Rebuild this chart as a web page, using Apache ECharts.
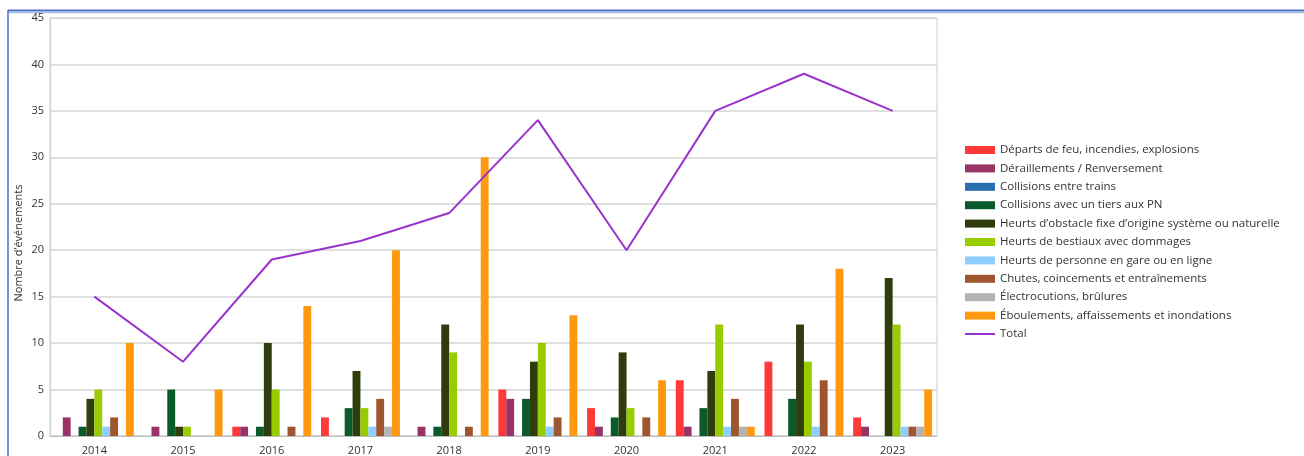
<!DOCTYPE html>
<html><head><meta charset="utf-8">
<script src="https://cdn.jsdelivr.net/npm/echarts@6/dist/echarts.min.js"></script>
<style>html,body{margin:0;padding:0;background:#fff}#c{width:1304px;height:456px}</style>
</head><body><div id="c"></div>
<script>
const years = ['2014','2015','2016','2017','2018','2019','2020','2021','2022','2023'];
const seriesNames = [
  'Départs de feu, incendies, explosions',
  'Déraillements / Renversement',
  'Collisions entre trains',
  'Collisions avec un tiers aux PN',
  'Heurts d\u2019obstacle fixe d\u2019origine système ou naturelle',
  'Heurts de bestiaux avec dommages',
  'Heurts de personne en gare ou en ligne',
  'Chutes, coincements et entraînements',
  'Électrocutions, brûlures',
  'Éboulements, affaissements et inondations'
];
const feu        = [0,0,1,2,0,5,3,6,8,2];
const deraille   = [2,1,1,0,1,4,1,1,0,1];
const collTrains = [0,0,0,0,0,0,0,0,0,0];
const collPN     = [1,5,1,3,1,4,2,3,4,0];
const obstacle   = [4,1,10,7,12,8,9,7,12,17];
const bestiaux   = [5,1,5,3,9,10,3,12,8,12];
const personne   = [1,0,0,1,0,1,0,1,1,1];
const chutes     = [2,0,1,4,1,2,2,4,6,1];
const electro    = [0,0,0,1,0,0,0,1,0,1];
const eboulement = [10,5,14,20,30,13,6,1,18,5];
const total      = [15,8,19,21,24,34,20,35,39,35];
const totalName = 'Total';
const yTitle = 'Nombre d\u2019événements';
const colors = ['#ff3838','#993366','#2a6eb0','#0b5a2c','#2f3d0c','#99cc00','#8ecfff','#9e5530','#b3b3b3','#ff9a10'];
const barData = [feu,deraille,collTrains,collPN,obstacle,bestiaux,personne,chutes,electro,eboulement];

const font = 'Open Sans';
const series = barData.map((d,i)=>({
  name: seriesNames[i], type:'bar', data:d, barGap:'0%', barCategoryGap:'11%',
  itemStyle:{color:colors[i]}, silent:true
}));
series.push({name: totalName, type:'line', data: total, symbol:'none',
  lineStyle:{color:'#9933cc', width:2}, itemStyle:{color:'#9933cc'}, z:5});

const chart = echarts.init(document.getElementById('c'));
chart.setOption({
  animation:false,
  backgroundColor:'#ffffff',
  grid:{left:50, top:18, width:887, height:419, show:true, borderColor:'#cfcfcf', borderWidth:1},
  legend:{
    orient:'vertical', left:960, top:139, itemWidth:30, itemHeight:8, itemGap:6.4,
    textStyle:{fontFamily:font, fontSize:11.5, color:'#333'},
    data: seriesNames.map(n=>({name:n, icon:'rect'})).concat([{name: totalName, icon:'path://M0,0H30V2H0Z'}])
  },
  xAxis:{type:'category', data:years,
    axisLine:{lineStyle:{color:'#bdbdbd'}}, axisTick:{show:false},
    axisLabel:{fontFamily:font, fontSize:11, color:'#333', margin:9}},
  yAxis:{type:'value', min:0, max:45, interval:5,
    axisLine:{show:true, lineStyle:{color:'#cfcfcf'}}, axisTick:{show:false},
    splitLine:{lineStyle:{color:'#d4d4d4', width:1.5}},
    axisLabel:{fontFamily:font, fontSize:11, color:'#333', margin:6}},
  graphic:[
    {type:'line', shape:{x1:8,y1:10.5,x2:1304,y2:10.5}, style:{stroke:'#4a72c0', lineWidth:2}},
    {type:'line', shape:{x1:8,y1:12.5,x2:1304,y2:12.5}, style:{stroke:'#a9c0e8', lineWidth:1.5}},
    {type:'line', shape:{x1:8,y1:10,x2:8,y2:456}, style:{stroke:'#4a72c0', lineWidth:1.5}},
    {type:'text', x:19, y:243, rotation:Math.PI/2,
      style:{text:yTitle, fontFamily:font, fontSize:11, fill:'#333', align:'center', verticalAlign:'middle'}}
  ],
  series
});
</script></body></html>
